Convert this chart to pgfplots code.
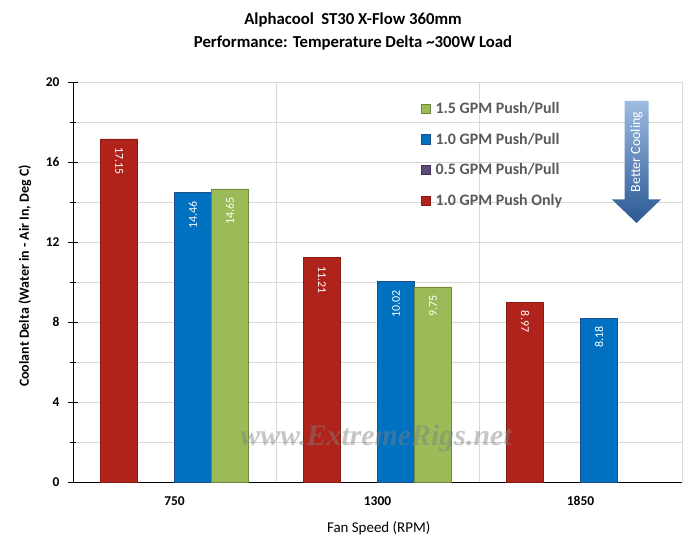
\documentclass[border=0pt]{standalone}
\usepackage{pgfplots}
\pgfplotsset{compat=1.18}
\usepackage{fontspec}
\setmainfont{Carlito}
\newfontfamily\wmfont{Liberation Serif}
\definecolor{cred}{HTML}{B0231A}
\definecolor{credd}{HTML}{8A1A12}
\definecolor{cblue}{HTML}{0070C0}
\definecolor{cblued}{HTML}{1F4E89}
\definecolor{cgreen}{HTML}{9BBB59}
\definecolor{cgreend}{HTML}{71893F}
\definecolor{cpurple}{HTML}{604A7B}
\definecolor{cpurpled}{HTML}{3F3151}
\definecolor{cgray}{HTML}{595959}
\definecolor{gridc}{HTML}{D9D9D9}
\definecolor{arrtop}{HTML}{9DBBE0}
\definecolor{arrbot}{HTML}{2B5894}
\pgfplotsset{sq legend/.style={legend image code/.code={\draw[##1] (0bp,-4.7bp) rectangle (9.4bp,4.7bp);}}}
\begin{document}
\begin{tikzpicture}
\useasboundingbox (-73bp,-66bp) rectangle (626bp,482bp);
\begin{axis}[
  at={(0,0)}, anchor=south west,
  scale only axis, width=609bp, height=400bp,
  ybar, bar width=0.182,
  xmin=-0.5, xmax=2.5, ymin=0, ymax=20,
  axis x line*=bottom, axis y line*=left,
  axis line style={black, line width=0.9bp, -},
  xtick={0,1,2}, xticklabels={750,1300,1850},
  major x tick style={draw=none},
  minor xtick={0.5,1.5,2.5}, minor x tick style={draw=none},
  xminorgrids,
  ytick={0,4,...,20}, minor ytick={2,6,...,18},
  ymajorgrids, yminorgrids,
  major grid style={gridc, line width=0.8bp},
  minor grid style={gridc, line width=0.8bp},
  tick align=center, major tick length=10bp, minor tick length=6bp,
  tick style={black, line width=0.8bp},
  /pgf/number format/assume math mode=true,
  tick label style={font=\fontsize{13.5}{15}\selectfont\bfseries},
  xticklabel style={yshift=-6bp},
  yticklabel style={xshift=-5bp},
  ylabel={Coolant Delta (Water in - Air In, Deg C)},
  ylabel style={at={(axis description cs:-0.079,0.515)}, anchor=center, font=\fontsize{14}{16}\selectfont\bfseries},
  xlabel={Fan Speed (RPM)},
  xlabel style={at={(axis description cs:0.502,-0.115)}, anchor=center, font=\fontsize{15}{17}\selectfont},
  reverse legend,
  legend cell align=left,
  legend style={at={(rel axis cs:0.571,0.9535)}, anchor=north west, draw=none, fill=none,
    font=\fontsize{16}{18}\selectfont\bfseries, text=cgray, row sep=15bp, inner sep=0pt,
    nodes={inner sep=1.5bp},
    /tikz/every odd column/.append style={column sep=3bp}},
  point meta=explicit symbolic,
]
\addplot[sq legend, fill=cred, draw=credd, line width=0.8bp, bar shift=-0.273,
  nodes near coords,
  nodes near coords style={rotate=-90, anchor=west, inner xsep=8bp, text=white, font=\fontsize{12}{13}\selectfont}]
  coordinates {(0,17.15) [17.15] (1,11.21) [11.21] (2,8.97) [8.97]};
\addlegendentry{1.0 GPM Push Only}
\addlegendimage{sq legend, fill=cpurple, draw=cpurpled, line width=0.8bp}
\addlegendentry{0.5 GPM Push/Pull}
\addplot[sq legend, fill=cblue, draw=cblued, line width=0.8bp, bar shift=0.091,
  nodes near coords,
  nodes near coords style={rotate=90, anchor=east, inner xsep=8bp, text=white, font=\fontsize{12}{13}\selectfont}]
  coordinates {(0,14.46) [14.46] (1,10.02) [10.02] (2,8.18) [8.18]};
\addlegendentry{1.0 GPM Push/Pull}
\addplot[sq legend, fill=cgreen, draw=cgreend, line width=0.8bp, bar shift=0.273,
  nodes near coords,
  nodes near coords style={rotate=90, anchor=east, inner xsep=8bp, text=white, font=\fontsize{12}{13}\selectfont}]
  coordinates {(0,14.65) [14.65] (1,9.75) [9.75]};
\addlegendentry{1.5 GPM Push/Pull}
\shade[top color=arrtop, bottom color=arrbot]
  (axis cs:2.217,19.05) -- (axis cs:2.335,19.05) -- (axis cs:2.335,14.125) -- (axis cs:2.396,14.125)
  -- (axis cs:2.276,12.95) -- (axis cs:2.155,14.125) -- (axis cs:2.217,14.125) -- cycle;
\node[rotate=90, text=white, font=\fontsize{14}{15}\selectfont] at (axis cs:2.276,16.5) {Better Cooling};
\node[font=\wmfont\bfseries\itshape\fontsize{30}{30}\selectfont, text=gray, opacity=0.45] at (axis cs:0.993,2.2) {www.ExtremeRigs.net};
\end{axis}
\node[font=\bfseries\fontsize{16.8}{19}\selectfont] at (280bp,462bp) {Alphacool\ \ ST30 X-Flow 360mm};
\node[font=\bfseries\fontsize{16.8}{19}\selectfont] at (280bp,439bp) {Performance: Temperature Delta \textasciitilde300W Load};
\end{tikzpicture}
\end{document}
